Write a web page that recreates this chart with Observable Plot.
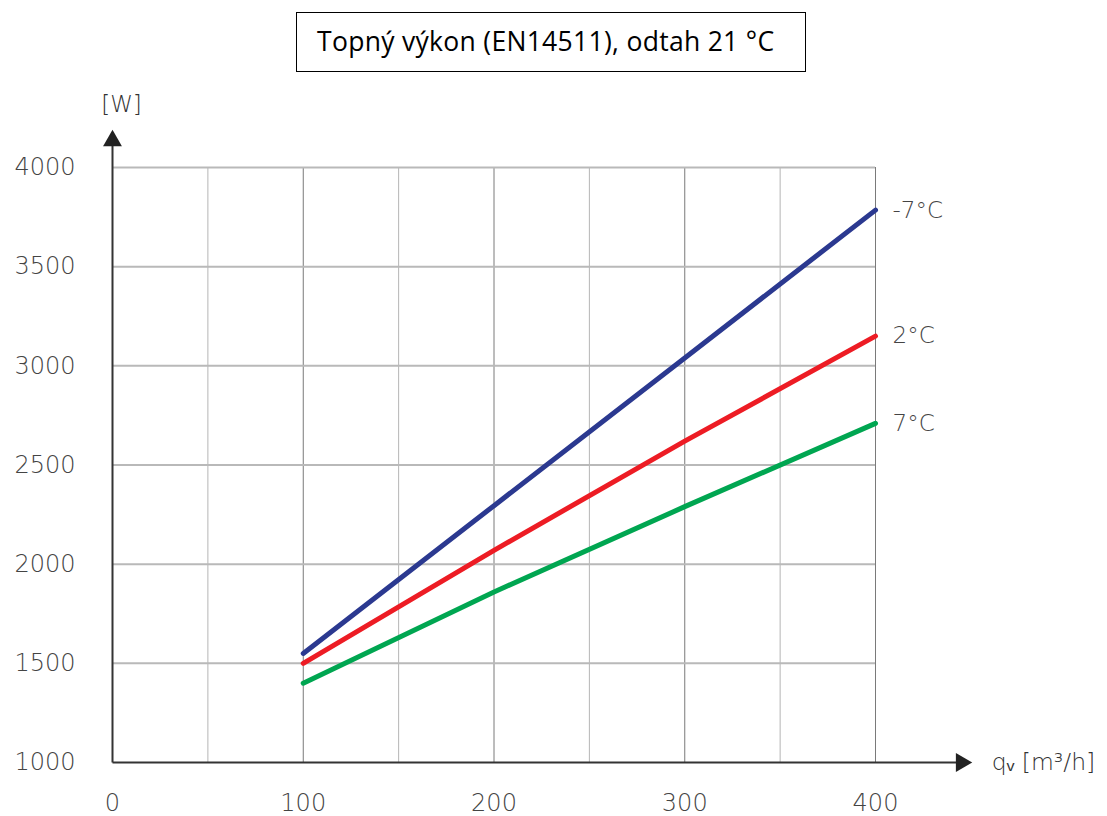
<!DOCTYPE html>
<html><head><meta charset="utf-8">
<script src="https://cdn.jsdelivr.net/npm/d3@7"></script>
<script src="https://cdn.jsdelivr.net/npm/@observablehq/plot@0.6"></script>
<style>
body{margin:0;background:#fff;}
#wrap{position:relative;width:1107px;height:816px;}
#title{position:absolute;left:296px;top:12px;width:508px;height:58px;border:1.5px solid #000;box-sizing:content-box;
 font-family:"Open Sans",Lato,sans-serif;font-size:26.5px;color:#000;line-height:58px;}
#title span{position:absolute;left:20px;top:-1px;letter-spacing:0.3px;white-space:nowrap;}
#chart{position:absolute;left:0;top:0;}
</style></head>
<body><div id="wrap"><div id="chart"></div><div id="title"><span>Topný výkon (EN14511), odtah 21 °C</span></div></div>
<script>
const flow = [100, 200, 300, 400];
const seriesNames = ["-7°C", "2°C", "7°C"];
const seriesColors = ["#2b3990", "#ed1c24", "#00a651"];
const valuesM7 = [1550, 2295, 3040, 3785];
const values2 = [1500, 2070, 2620, 3150];
const values7 = [1400, 1860, 2290, 2710];
const xTicks = [0, 100, 200, 300, 400];
const yTicks = [1000, 1500, 2000, 2500, 3000, 3500, 4000];
const xGridMinor = [50, 150, 250, 350];
const xGridMajor = [100, 200, 300, 400];
const yGrid = [1500, 2000, 2500, 3000, 3500, 4000];

const allSeries = [valuesM7, values2, values7];
const rows = [];
allSeries.forEach((vals, i) => vals.forEach((v, j) => rows.push({x: flow[j], y: v, s: seriesNames[i]})));
const ends = allSeries.map((vals, i) => ({x: flow[flow.length-1], y: vals[vals.length-1], s: seriesNames[i]}));

const font = "'DejaVu Sans', sans-serif";
const chart = Plot.plot({
  width: 1107, height: 816,
  marginLeft: 112, marginRight: 232, marginTop: 167, marginBottom: 54,
  x: {domain: [0, 400]},
  y: {domain: [1000, 4000]},
  color: {domain: seriesNames, range: seriesColors},
  style: {fontFamily: font, background: "#fff"},
  marks: [
    Plot.ruleX(xGridMinor, {stroke: "#b5b5b5", strokeWidth: 1}),
    Plot.ruleX(xGridMajor, {stroke: "#7a7a7a", strokeWidth: 1}),
    Plot.ruleY(yGrid, {stroke: "#b9b9b9", strokeWidth: 2}),
    Plot.axisY(yTicks, {tickSize: 0, tickPadding: 37, fontSize: 24, fill: "#444", label: null, tickFormat: "d", fontWeight: 300}),
    Plot.axisX(xTicks, {tickSize: 0, tickPadding: 31, fontSize: 24, fill: "#444", label: null, tickFormat: "d", fontWeight: 300}),
    Plot.line(rows, {x: "x", y: "y", z: "s", stroke: "s", strokeWidth: 5, strokeLinecap: "round"}),
    Plot.text(ends, {x: "x", y: "y", text: "s", dx: 17, textAnchor: "start", fontSize: 23, fill: "#444", fontWeight: 300}),
    Plot.link([{x1: 0, y1: 1000, x2: 443, y2: 1000}], {x1: "x1", y1: "y1", x2: "x2", y2: "y2", stroke: "#333", strokeWidth: 2}),
    Plot.link([{x1: 0, y1: 1000, x2: 0, y2: 4120}], {x1: "x1", y1: "y1", x2: "x2", y2: "y2", stroke: "#333", strokeWidth: 2}),
    Plot.dot([{x: 445, y: 1000}], {x: "x", y: "y", symbol: "triangle", r: 7, fill: "#222", stroke: "none", rotate: 90}),
    Plot.dot([{x: 0, y: 4135}], {x: "x", y: "y", symbol: "triangle", r: 7, fill: "#222", stroke: "none"}),
    Plot.text([{x: 0, y: 4315}], {x: "x", y: "y", text: () => "[W]", dx: 9, fontSize: 23, fill: "#333", fontWeight: 300}),
    Plot.text([{x: 461, y: 1000}], {x: "x", y: "y", text: () => "qᵥ [m³/h]", textAnchor: "start", fontSize: 23.5, fill: "#333", fontWeight: 300})
  ]
});
document.getElementById("chart").append(chart);
</script></body></html>
